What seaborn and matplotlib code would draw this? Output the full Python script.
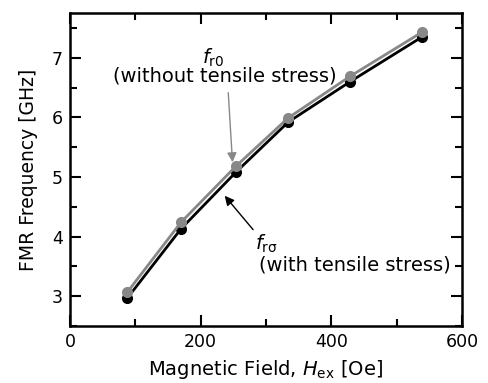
import matplotlib
matplotlib.use('Agg')
import matplotlib.pyplot as plt
import seaborn as sns
import pandas as pd
from matplotlib.ticker import MultipleLocator

# values
field = [88, 170, 254, 334, 429, 539]
fr_sigma = [2.97, 4.13, 5.08, 5.92, 6.60, 7.35]   # with tensile stress
fr_zero = [3.07, 4.24, 5.18, 5.99, 6.69, 7.43]    # without tensile stress

df = pd.DataFrame({'field': field * 2,
                   'freq': fr_sigma + fr_zero,
                   'series': ['sigma'] * len(field) + ['zero'] * len(field)})

sns.set_style('ticks', {'axes.edgecolor': 'black', 'xtick.color': 'black',
                        'ytick.color': 'black', 'text.color': 'black',
                        'axes.labelcolor': 'black'})
plt.rcParams['font.family'] = ['DejaVu Sans']
plt.rcParams['mathtext.fontset'] = 'dejavusans'

fig = plt.figure(figsize=(4.88, 3.83), dpi=100)
ax = fig.add_axes([0.1434, 0.149, 0.8033, 0.817])

sns.lineplot(data=df[df.series == 'zero'], x='field', y='freq', color='#888888',
             marker='o', markersize=8, markeredgewidth=0, linewidth=2, ax=ax)
sns.lineplot(data=df[df.series == 'sigma'], x='field', y='freq', color='black',
             marker='o', markersize=8, markeredgewidth=0, linewidth=2, ax=ax, zorder=1)

ax.set_xlim(0, 600)
ax.set_ylim(2.5, 7.75)
ax.xaxis.set_major_locator(MultipleLocator(200))
ax.xaxis.set_minor_locator(MultipleLocator(100))
ax.yaxis.set_major_locator(MultipleLocator(1))
ax.yaxis.set_minor_locator(MultipleLocator(0.5))
ax.tick_params(which='both', direction='in', top=True, right=True, width=1.5,
               labelsize=12.5, pad=5, colors='black')
ax.tick_params(which='major', length=8)
ax.tick_params(which='minor', length=5)
for s in ax.spines.values():
    s.set_linewidth(1.8)
    s.set_color('black')

ax.set_xlabel('Magnetic Field, $H_{\\rm ex}$ [Oe]', fontsize=14, labelpad=5)
ax.set_ylabel('FMR Frequency [GHz]', fontsize=13.5, labelpad=10)

ax.text(219, 7.0, '$f_{\\rm r0}$', fontsize=14, ha='center', va='center')
ax.text(237, 6.69, '(without tensile stress)', fontsize=14, ha='center', va='center')
ax.annotate('', xy=(249, 5.2), xytext=(242, 6.46),
            arrowprops=dict(arrowstyle='-|>', color='#888888', lw=1, mutation_scale=14))

ax.text(301, 3.87, '$f_{\\rm r\\sigma}$', fontsize=14, ha='center', va='center')
ax.text(290, 3.53, '(with tensile stress)', fontsize=14, ha='left', va='center')
ax.annotate('', xy=(234, 4.72), xytext=(283, 4.08),
            arrowprops=dict(arrowstyle='-|>', color='black', lw=1, mutation_scale=14))

fig.savefig('out.png', dpi=100)
